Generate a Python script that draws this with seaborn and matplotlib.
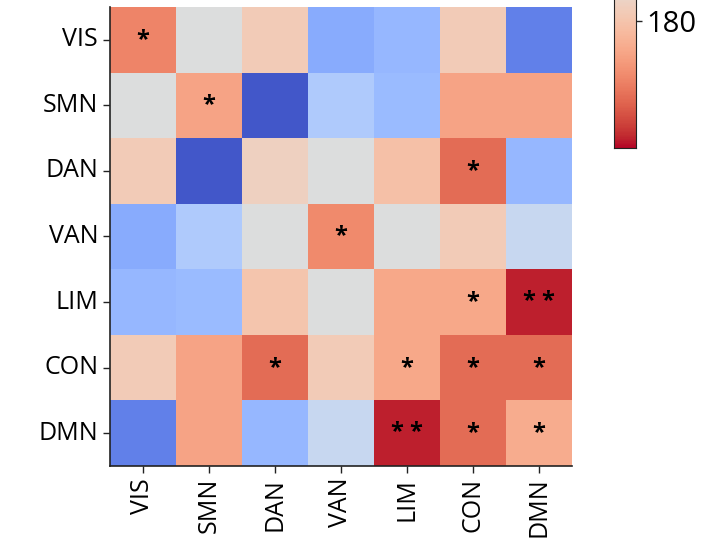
import numpy as np
import pandas as pd
import matplotlib
matplotlib.use("Agg")
import matplotlib.pyplot as plt
import seaborn as sns

networks = ["VIS", "SMN", "DAN", "VAN", "LIM", "CON", "DMN"]

vis = [166, 190, 182, 211, 208, 182, 220]
smn = [190, 172, 228, 202, 207, 172, 172]
dan = [182, 228, 184, 190, 179, 162, 208]
van = [211, 202, 190, 167, 190, 182, 196]
lim = [208, 207, 180, 190, 173, 173, 152]
con = [182, 172, 162, 182, 173, 162, 162]
dmn = [220, 172, 208, 196, 152, 162, 174]

sig_vis = ["*", "", "", "", "", "", ""]
sig_smn = ["", "*", "", "", "", "", ""]
sig_dan = ["", "", "", "", "", "*", ""]
sig_van = ["", "", "", "*", "", "", ""]
sig_lim = ["", "", "", "", "", "*", "* *"]
sig_con = ["", "", "*", "", "*", "*", "*"]
sig_dmn = ["", "", "", "", "* *", "*", "*"]

cbar_ticks = [180]

df = pd.DataFrame([vis, smn, dan, van, lim, con, dmn], index=networks, columns=networks)
annot = np.array([sig_vis, sig_smn, sig_dan, sig_van, sig_lim, sig_con, sig_dmn])

sns.set_style("white")
plt.rcParams['font.family'] = ['Open Sans', 'DejaVu Sans']

fig = plt.figure(figsize=(7.16, 5.6), dpi=100)
ax = fig.add_axes([0.1536, 0.1679, 0.6453, 0.8196])
cax = fig.add_axes([0.8575, 0.7357, 0.0307, 0.607])

sns.heatmap(df, cmap="coolwarm_r", vmin=150, vmax=230, annot=annot, fmt="",
            annot_kws={"size": 17, "weight": "bold", "color": "black"},
            ax=ax, cbar_ax=cax, cbar_kws={"ticks": cbar_ticks})

for side in ["left", "bottom"]:
    ax.spines[side].set_visible(True)
    ax.spines[side].set_color("#222222")
    ax.spines[side].set_linewidth(1.2)
ax.tick_params(axis="both", length=5, width=1, color="#222222", labelsize=18,
               labelcolor="black", left=True, bottom=True)
ax.set_xticklabels(networks, rotation=90)
ax.set_yticklabels(networks, rotation=0)
ax.set_xlabel("")
ax.set_ylabel("")

cax.tick_params(labelsize=21, length=4, width=1, labelcolor="black")
for s in cax.spines.values():
    s.set_visible(True)
    s.set_color("#222222")

fig.savefig("out.png", dpi=100)
